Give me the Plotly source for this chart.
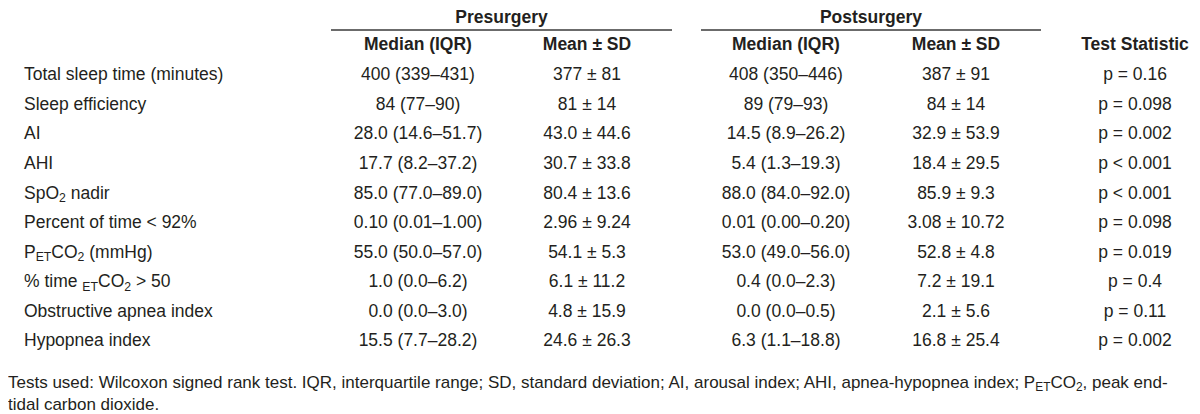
import plotly.graph_objects as go

W, H = 1200, 414
FONT = "Arial, 'Liberation Sans', sans-serif"
INK = "#231f20"

# ---- data ----
variables = [
    "Total sleep time (minutes)",
    "Sleep efficiency",
    "AI",
    "AHI",
    "SpO<sub>2</sub> nadir",
    "Percent of time &lt; 92%",
    "P<sub>ET</sub>CO<sub>2</sub> (mmHg)",
    "% time <sub>ET</sub>CO<sub>2</sub> &gt; 50",
    "Obstructive apnea index",
    "Hypopnea index",
]
pre_median_iqr = [
    "400 (339–431)", "84 (77–90)", "28.0 (14.6–51.7)", "17.7 (8.2–37.2)",
    "85.0 (77.0–89.0)", "0.10 (0.01–1.00)", "55.0 (50.0–57.0)", "1.0 (0.0–6.2)",
    "0.0 (0.0–3.0)", "15.5 (7.7–28.2)",
]
pre_mean_sd = [
    "377 ± 81", "81 ± 14", "43.0 ± 44.6", "30.7 ± 33.8", "80.4 ± 13.6",
    "2.96 ± 9.24", "54.1 ± 5.3", "6.1 ± 11.2", "4.8 ± 15.9", "24.6 ± 26.3",
]
post_median_iqr = [
    "408 (350–446)", "89 (79–93)", "14.5 (8.9–26.2)", "5.4 (1.3–19.3)",
    "88.0 (84.0–92.0)", "0.01 (0.00–0.20)", "53.0 (49.0–56.0)", "0.4 (0.0–2.3)",
    "0.0 (0.0–0.5)", "6.3 (1.1–18.8)",
]
post_mean_sd = [
    "387 ± 91", "84 ± 14", "32.9 ± 53.9", "18.4 ± 29.5", "85.9 ± 9.3",
    "3.08 ± 10.72", "52.8 ± 4.8", "7.2 ± 19.1", "2.1 ± 5.6", "16.8 ± 25.4",
]
test_statistic = [
    "p = 0.16", "p = 0.098", "p = 0.002", "p &lt; 0.001", "p &lt; 0.001",
    "p = 0.098", "p = 0.019", "p = 0.4", "p = 0.11", "p = 0.002",
]
sub_headers = ["Median (IQR)", "Mean ± SD", "Median (IQR)", "Mean ± SD", "Test Statistic"]
groups = ["Presurgery", "Postsurgery"]
footnote = ("Tests used: Wilcoxon signed rank test. IQR, interquartile range; SD, standard "
            "deviation; AI, arousal index; AHI, apnea-hypopnea index; P<sub>ET</sub>CO<sub>2</sub>, "
            "peak end-<br>tidal carbon dioxide.")

# ---- layout constants (pixels on a 1200-wide x axis; rows on a row-index y axis) ----
ROW0_PX, ROW_PX = 68.0, 29.55
def row_of(px):
    return (px - ROW0_PX) / ROW_PX

label_x = 16
col_centers = [410, 579, 778, 948, 1127]
group_spans = [(323, 664), (693, 1033)]
header_row = row_of(37.5)
group_row = row_of(10.5)
line_row = row_of(22)
foot_row = row_of(386.5)

rows = list(range(len(variables)))
font = dict(family=FONT, size=17.5, color=INK)
foot_font = dict(family=FONT, size=17, color=INK)

fig = go.Figure()
fig.add_trace(go.Scatter(x=[label_x] * len(rows), y=rows, text=variables, mode="text",
                         textposition="middle right", textfont=font, hoverinfo="skip",
                         showlegend=False, cliponaxis=False))
for cx, col in zip(col_centers, [pre_median_iqr, pre_mean_sd, post_median_iqr,
                                 post_mean_sd, test_statistic]):
    fig.add_trace(go.Scatter(x=[cx] * len(rows), y=rows, text=col, mode="text",
                             textposition="middle center", textfont=font,
                             hoverinfo="skip", showlegend=False, cliponaxis=False))
# column sub-headers
fig.add_trace(go.Scatter(x=col_centers, y=[header_row] * len(col_centers),
                         text=[f"<b>{h}</b>" for h in sub_headers], mode="text",
                         textposition="middle center", textfont=font,
                         hoverinfo="skip", showlegend=False, cliponaxis=False))
# group headers
fig.add_trace(go.Scatter(x=[(a + b) / 2 for a, b in group_spans], y=[group_row] * 2,
                         text=[f"<b>{g}</b>" for g in groups], mode="text",
                         textposition="middle center", textfont=font,
                         hoverinfo="skip", showlegend=False, cliponaxis=False))
for x0, x1 in group_spans:
    fig.add_shape(type="line", xref="x", yref="y", x0=x0, x1=x1, y0=line_row, y1=line_row,
                  line=dict(color="#3a3a3a", width=1.5))
# footnote
fig.add_trace(go.Scatter(x=[0], y=[foot_row], text=[footnote], mode="text",
                         textposition="middle right", textfont=foot_font,
                         hoverinfo="skip", showlegend=False, cliponaxis=False))

fig.update_xaxes(range=[0, W], visible=False, fixedrange=True)
fig.update_yaxes(range=[row_of(H), row_of(0)], visible=False, fixedrange=True)
fig.update_layout(width=W, height=H, margin=dict(l=0, r=0, t=0, b=0),
                  paper_bgcolor="white", plot_bgcolor="white")
fig.write_html("out.html")
